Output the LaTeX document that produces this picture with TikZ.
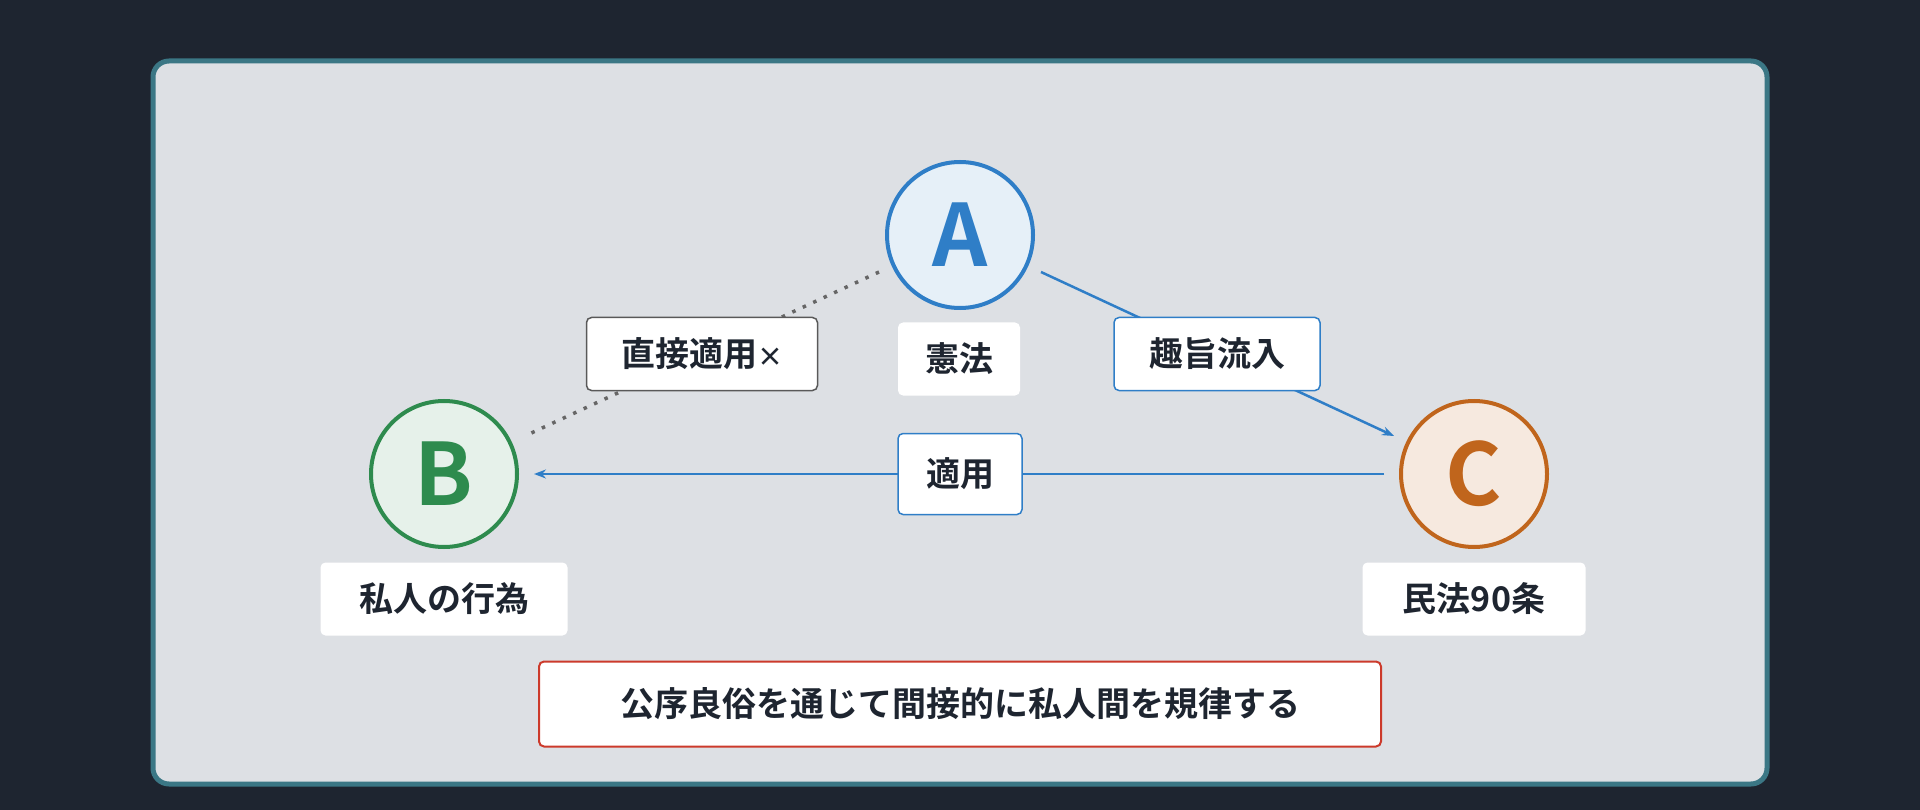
\documentclass[tikz,border=0pt]{standalone}
\usepackage{fontspec}
\setmainfont{Noto Sans CJK JP}[BoldFont={* Bold}]
\usetikzlibrary{arrows.meta}
\definecolor{bg}{HTML}{1E2530}
\definecolor{panel}{HTML}{DDE0E4}
\definecolor{panelb}{HTML}{3B7785}
\definecolor{blu}{HTML}{2F7EC7}
\definecolor{grn}{HTML}{2E8B4E}
\definecolor{org}{HTML}{C0651C}
\definecolor{red}{HTML}{CC3A2B}
\definecolor{txt}{HTML}{1E2530}
\begin{document}
\begin{tikzpicture}[x=1pt,y=-1pt,
  circ/.style={circle,minimum size=146pt,line width=4pt,font=\fontsize{86}{86}\selectfont\bfseries,inner sep=0pt},
  lab/.style={fill=white,rounded corners=5pt,font=\fontsize{34}{34}\selectfont\bfseries,text=txt,minimum height=73pt,inner xsep=12pt},
  elab/.style={lab,draw,line width=1.5pt}]
\fill[bg] (0,0) rectangle (1920,810);
\useasboundingbox (0,0) rectangle (1920,810);
\draw[panelb,fill=panel,line width=5pt,rounded corners=16pt] (153,61) rectangle (1767,784);
\node[circ,draw=blu,fill=blu!12,text=blu] (A) at (960,235) {A};
\node[circ,draw=grn,fill=grn!12,text=grn] (B) at (444,474) {B};
\node[circ,draw=org,fill=org!14,text=org] (C) at (1474,474) {C};
\node[lab,minimum width=122pt] (la) at (959,359) {憲法};
\node[lab,minimum width=247pt] (lb) at (444,599) {私人の行為};
\node[lab,minimum width=223pt] (lc) at (1474,599) {民法90条};
\coordinate (d1) at (879,272); \coordinate (d2) at (527,435);
\coordinate (e1) at (1041,272); \coordinate (e2) at (1394,436);
\coordinate (f1) at (1384,474); \coordinate (f2) at (534,474);
\draw[gray!80!black,line width=3.5pt,dash pattern=on 3.5pt off 8pt] (d1) -- (d2);
\draw[blu,line width=2.5pt,-{Stealth[length=12pt]}] (e1) -- (e2);
\draw[blu,line width=2.5pt,-{Stealth[length=12pt]}] (f1) -- (f2);
\node[elab,draw=gray!70!black,minimum width=231pt] (x1) at (702,354) {直接適用{\fontsize{26}{26}\selectfont ×}};
\node[elab,draw=blu,minimum width=206pt] (x2) at (1217,354) {趣旨流入};
\node[elab,draw=blu,minimum width=124pt,minimum height=81pt] (x3) at (960,474) {適用};
\node[elab,draw=red,minimum width=842pt,minimum height=85pt,line width=2pt] (bot) at (960,704) {公序良俗を通じて間接的に私人間を規律する};
\end{tikzpicture}
\end{document}
